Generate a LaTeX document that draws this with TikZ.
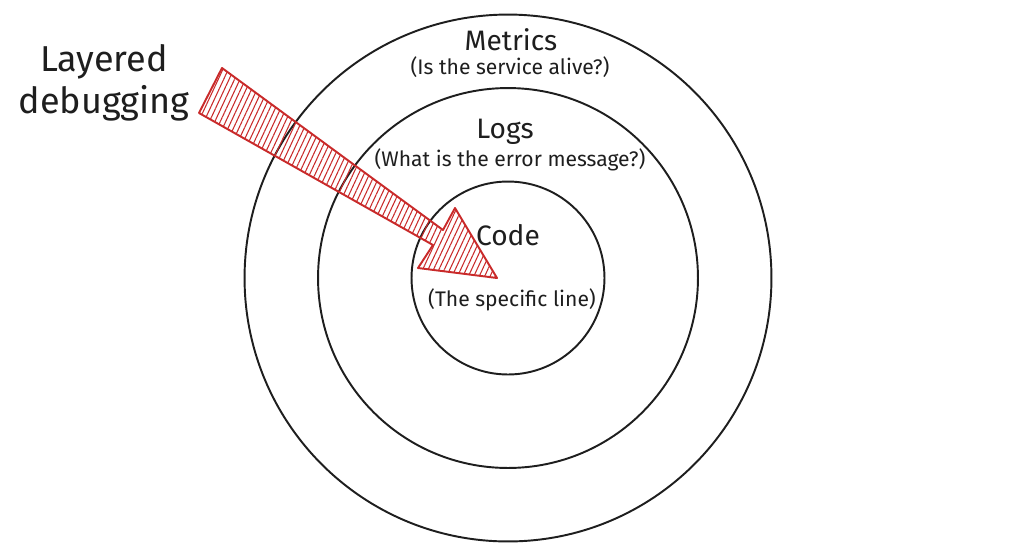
\documentclass[tikz,border=0pt]{standalone}
\usepackage{fontspec}
\setmainfont{Fira Sans}
\usetikzlibrary{patterns.meta}
\definecolor{ink}{HTML}{1E1E1E}
\definecolor{marker}{HTML}{C92A2A}

\begin{document}
\begin{tikzpicture}[x=0.02cm,y=-0.02cm,
 ring/.style={draw=ink,circle,line width=1.1pt,inner sep=0pt},
 title/.style={text=ink,font=\fontsize{16}{18}\selectfont},
 note/.style={text=ink,font=\fontsize{12}{14}\selectfont},
 big/.style={text=ink,font=\fontsize{20.5}{24}\selectfont}]
\fill[white] (0,0) rectangle (1024,559);
\useasboundingbox (0,0) rectangle (1024,559);
% rings
\foreach \n/\d in {outer/10.54cm,middle/7.6cm,inner/3.86cm}
 \node[ring,minimum size=\d] (\n) at (508,278) {};
% ring labels
\node[title] (metrics) at (511,40) {Metrics};
\node[note] (metricsq) at (510,67) {(Is the service alive?)};
\node[title] (logs) at (505,132) {Logs};
\node[note] (logsq) at (510,160) {(What is the error message?)};
\node[title] (code) at (508,235) {Code};
\node[note] (codeq) at (512,300) {(The specific line)};
% side label
\node[big] (layered) at (104,62) {Layered};
\node[big] (debugging) at (104,103) {debugging};
% arrow into the code ring
\coordinate (tailtop) at (222,68);
\coordinate (tailbot) at (199,113);
\coordinate (shaftbot) at (433,245);
\coordinate (headbot) at (418,268);
\coordinate (tip) at (497,278);
\coordinate (headtop) at (455,208);
\coordinate (shafttop) at (443,230);
\draw[marker,line width=1.1pt,line join=round,
 pattern={Lines[angle=65,distance=2.8pt,line width=0.6pt]},pattern color=marker]
 (tailtop) -- (shafttop) -- (headtop) -- (tip) -- (headbot) -- (shaftbot) -- (tailbot) -- cycle;
\end{tikzpicture}
\end{document}
